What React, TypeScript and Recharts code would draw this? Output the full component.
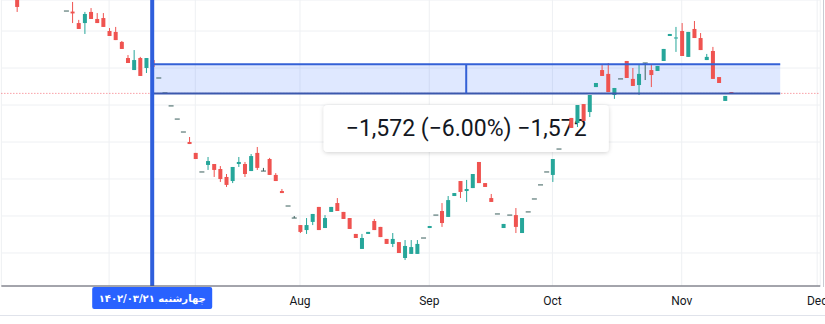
import React from 'react';
import {
  ComposedChart,
  Bar,
  XAxis,
  YAxis,
  CartesianGrid,
  ReferenceLine,
  ReferenceArea
} from 'recharts';

// candles start at slot -8; null = off screen / no bar
const firstSlot = -8;
const opens = [
  30000, null, null, null, null, null, null, null,
  29080, 29050, 28430, 28430, 29030, 28650, 28700, 28000, 27950, 27410,
  26540, 25890, 26540, 26000, 26430, 25460, 24650, 23950, 23240, 22540,
  22000, 21410, 20380, 20760, 20810, 20540, 20110, 19890, 20810, 20810,
  20430, 21410, 20430, 21080, 20220, 19350, 18540, 17890, 17510, 17240,
  17680, 18490, 17350, 18220, 18700, 18220, 17890, 17030, 16220, 17030,
  17730, 17410, 16760, 16490, 16590, 15730, 15950, 15950, 16810, 17350,
  18050, 18270, 17950, 19080, 19890, 19350, 19510, 20920, 19780, 18970,
  18110, 17350, 18050, 18050, 17080, 18220, 18920, 19680, 20380, 20220,
  21620, null, 23300, 23030, 24050, 23620, 24970, 25890, 25680, 24540,
  25410, 26380, 25410, 25080, 26270, 25890, 25840, 26380, 27730, 27600,
  28000, 26600, 28110, 27620, 26430, 26920, 25510, 24220, 24700
];
const highs = [
  30220, null, null, null, null, null, null, null,
  29080, 29570, 28600, 29030, 29240, 28970, 28970, 28160, 28220, 27460,
  26700, 26970, 26600, 26540, 26540, 25460, 24650, 23950, 23240, 22540,
  22270, 21410, 20380, 21190, 20810, 20700, 20270, 20650, 21190, 20920,
  21350, 21730, 20600, 21140, 20320, 19460, 18540, 18000, 17510, 17890,
  18110, 18490, 18050, 18490, 18970, 18220, 17890, 17030, 17030, 17140,
  17840, 17410, 16760, 17080, 16590, 16700, 16700, 16700, 16810, 17460,
  18050, 18700, 19080, 19240, 19890, 19950, 20270, 20920, 19780, 19190,
  18110, 17570, 18050, 18430, 17890, 18220, 18920, 19680, 20380, 21080,
  21620, null, 23300, 24000, 24050, 24540, 25190, 26160, 26270, 24920,
  25410, 26380, 26000, 26160, 26270, 26160, 26110, 27030, 27840, 28220,
  28430, 27950, 28540, 27890, 26760, 27140, 25510, 24490, 24700
];
const lows = [
  29030, null, null, null, null, null, null, null,
  29080, 28430, 28110, 27840, 28650, 28430, 28220, 27730, 27510, 27030,
  26270, 25890, 25570, 25730, 26050, 25460, 24650, 23950, 23240, 22540,
  21890, 21080, 20380, 20490, 20110, 19840, 19570, 19780, 20650, 20110,
  20430, 20490, 20430, 20220, 19890, 19240, 18540, 17890, 17080, 17030,
  17510, 17240, 17350, 18220, 18270, 17840, 17300, 16810, 16220, 17030,
  17240, 16860, 16490, 16320, 16000, 15620, 15950, 15950, 16810, 17350,
  18050, 17410, 17950, 19080, 18970, 18760, 19510, 19780, 19570, 18760,
  18110, 17350, 18050, 17080, 17080, 18220, 18920, 19680, 20380, 19840,
  21620, null, 22760, 22810, 23140, 23350, 24970, 25570, 24700, 24330,
  25410, 25460, 25030, 24540, 25350, 24970, 25840, 26380, 27730, 26870,
  26650, 26600, 27620, 26970, 26430, 25410, 25190, 24220, 24628
];
const closes = [
  29300, null, null, null, null, null, null, null,
  29080, 28950, 28110, 28920, 28650, 28430, 28220, 27730, 27510, 27030,
  26270, 26430, 25570, 26540, 26050, 25460, 24650, 23950, 23240, 22540,
  21890, 21080, 20380, 20970, 20490, 20000, 19680, 20650, 20920, 20270,
  21240, 20600, 20430, 20220, 19890, 19240, 18540, 17890, 17140, 17510,
  18110, 17240, 17890, 18490, 18270, 17840, 17300, 16810, 16810, 17140,
  17240, 16860, 16490, 16760, 16000, 16380, 16320, 16490, 16810, 17460,
  18050, 17620, 18860, 19240, 19300, 19460, 20270, 19780, 19570, 18760,
  18110, 17570, 18050, 17410, 17890, 18220, 18920, 19680, 20380, 21080,
  21620, null, 22760, 24000, 23140, 24540, 25190, 25570, 24700, 24920,
  25410, 25460, 25030, 25680, 26270, 25620, 26110, 27030, 27840, 27650,
  26650, 27950, 27620, 26970, 26600, 25410, 25190, 24490, 24628
];

const axisStart = -10;
const axisEnd = 122;
const priceDomain = [14216, 29676];
const priceTicks = [16000, 18000, 20000, 22000, 24000, 26000, 28000];
const timeTicks = [7, 21, 38, 59, 79, 100, 122];
const timeLabels = ['', '', 'Aug', 'Sep', 'Oct', 'Nov', 'Dec'];

const measureFrom = { slot: 14, price: 26200 };
const measureTo = { slot: 116, price: 24628 };
const measureMid = 65;
const lastPrice = 24628;
const cursorSlot = 14;
const cursorDate = 'چهارشنبه ۱۴۰۲/۰۳/۲۱';
const measureText = '−1,572 (−6.00%) −1,572';

const upColor = '#26a69a';
const downColor = '#ef5350';
const flatColor = '#3a5f5c';
const blue = '#2962ff';

const chartData = [];
for (let s = axisStart; s <= axisEnd; s++) {
  const i = s - firstSlot;
  const has = i >= 0 && i < opens.length && opens[i] != null;
  chartData.push({
    slot: s,
    open: has ? opens[i] : null,
    high: has ? highs[i] : null,
    low: has ? lows[i] : null,
    close: has ? closes[i] : null
  });
}

const CandleShape = (props: any) => {
  const { x, y, width, height, payload } = props;
  if (!payload || payload.open == null || !Number.isFinite(y)) return <g />;
  const { open, high, low, close } = payload;
  const cx = x + width / 2;
  const span = high - low;
  const py = (v: number) => (span > 0 ? y + ((high - v) / span) * height : y);
  const flat = open === close;
  const color = flat ? flatColor : close > open ? upColor : downColor;
  const top = py(Math.max(open, close));
  const bottom = py(Math.min(open, close));
  const bodyW = flat ? width : width - 1;
  return (
    <g>
      {span > 0 && <line x1={cx} x2={cx} y1={y} y2={y + height} stroke={color} strokeWidth={1} />}
      <rect x={cx - bodyW / 2} y={flat ? top - 0.5 : top} width={bodyW} height={Math.max(bottom - top, 1)} fill={color} />
    </g>
  );
};

// trims the area to the centre of the first and last bar
const MeasureFill = (props: any) => {
  const { x, y, width, height } = props;
  const band = width / (measureTo.slot - measureFrom.slot + 1);
  return <rect x={x + band / 2} y={y} width={width - band} height={height} fill={blue} fillOpacity={0.15} />;
};

// info label hangs under the measured range, behind the candles
const InfoLabel = (props: any) => {
  const { x, y, width, height } = props;
  if (!Number.isFinite(x)) return <g />;
  const cx = x + width / 2;
  const cy = y + height;
  return (
    <g>
      <defs>
        <filter id="lblShadow" x="-10%" y="-30%" width="120%" height="160%">
          <feDropShadow dx="0" dy="1" stdDeviation="2" floodColor="#000" floodOpacity="0.18" />
        </filter>
      </defs>
      <rect x={cx - 142.5} y={cy + 11.5} width={285} height={47} rx={4} fill="#fff" filter="url(#lblShadow)" />
      <text x={cx} y={cy + 43} textAnchor="middle" fontSize={23} fontFamily="Roboto, sans-serif" fill="#131722">
        {measureText}
      </text>
    </g>
  );
};

const DateTag = (props: any) => {
  const vb = props.viewBox;
  if (!vb) return null;
  const cx = vb.x;
  const top = vb.y + vb.height + 1;
  return (
    <g>
      <rect x={cx - 60} y={top} width={120} height={22} rx={2} fill={blue} />
      <text x={cx} y={top + 15} textAnchor="middle" fontSize={10} fontWeight="bold" fontFamily="'DejaVu Sans', sans-serif" fill="#fff">
        {cursorDate}
      </text>
    </g>
  );
};

export default function App() {
  return (
    <div style={{ position: 'relative', width: 825, height: 324, background: '#fff', overflow: 'hidden' }}>
      <style>{'body{margin:0}'}</style>
      <ComposedChart width={825} height={324} data={chartData} margin={{ top: 0, right: 4.75, left: 1.35, bottom: 0 }}>
        <CartesianGrid stroke="#eef0f3" />
        <XAxis
          dataKey="slot"
          type="category"
          ticks={timeTicks}
          interval={0}
          tickFormatter={(v) => timeLabels[timeTicks.indexOf(v)]}
          tickLine={false}
          axisLine={{ stroke: '#50535e' }}
          tick={{ fill: '#131722', fontSize: 12, fontFamily: 'Roboto, sans-serif' }}
          tickMargin={4}
          height={38}
        />
        <YAxis hide type="number" domain={priceDomain} ticks={priceTicks} allowDataOverflow />
        <ReferenceArea
          x1={measureFrom.slot}
          x2={measureTo.slot}
          y1={measureTo.price}
          y2={measureFrom.price}
          shape={<MeasureFill />}
          stroke="none"
        />
        <ReferenceArea
          x1={measureFrom.slot}
          x2={measureTo.slot}
          y1={measureTo.price}
          y2={measureFrom.price}
          shape={<InfoLabel />}
          stroke="none"
        />
        <ReferenceLine y={lastPrice} stroke="#f23645" strokeOpacity={0.7} strokeDasharray="1 2" />
        <Bar
          dataKey={(d: any) => (d.open == null ? null : [d.low, d.high])}
          barSize={5}
          shape={<CandleShape />}
          isAnimationActive={false}
        />
        <ReferenceLine
          segment={[{ x: measureFrom.slot, y: measureFrom.price }, { x: measureTo.slot, y: measureFrom.price }]}
          stroke="#3461d6"
          strokeWidth={2}
        />
        <ReferenceLine
          segment={[{ x: measureFrom.slot, y: measureTo.price }, { x: measureTo.slot, y: measureTo.price }]}
          stroke="#3b58ad"
          strokeWidth={2}
        />
        <ReferenceLine
          segment={[{ x: measureMid, y: measureTo.price }, { x: measureMid, y: measureFrom.price }]}
          stroke="#3461d6"
          strokeWidth={2}
        />
        <ReferenceLine x={cursorSlot} stroke="#2f5fdc" strokeWidth={4} label={(p: any) => <DateTag {...p} />} />
      </ComposedChart>
      <div style={{ position: 'absolute', left: 0, top: 315, width: 825, height: 1, background: '#e0e3eb' }} />
      <div style={{ position: 'absolute', left: 823, top: 0, width: 1, height: 287, background: '#c8cbd3' }} />
    </div>
  );
}
